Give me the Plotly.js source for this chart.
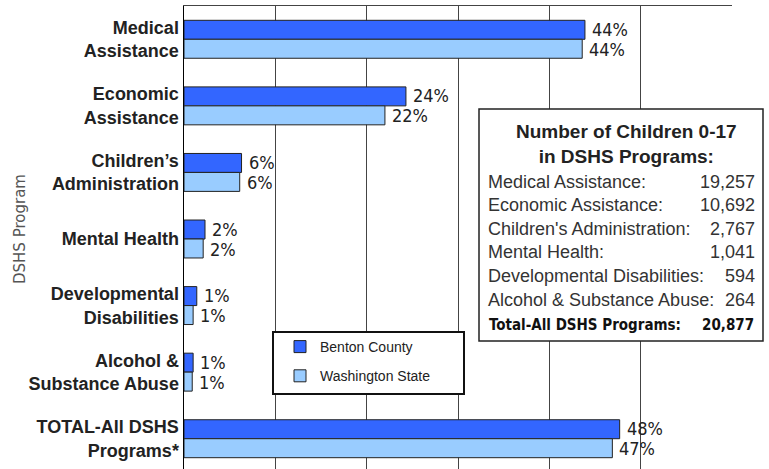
<!DOCTYPE html>
<html>
<head>
<meta charset="utf-8">
<script src="https://cdn.plot.ly/plotly-3.0.1.min.js"></script>
<style>
html, body { margin: 0; padding: 0; overflow: hidden; background: #fff; }
#chart { width: 769px; height: 472px; }
</style>
</head>
<body>
<div id="chart"></div>
<script>
// ---- Data ----
const categories = [
  "Medical<br>Assistance",
  "Economic<br>Assistance",
  "Children’s<br>Administration",
  "Mental Health",
  "Developmental<br>Disabilities",
  "Alcohol &<br>Substance Abuse",
  "TOTAL-All DSHS<br>Programs*"
];
const bentonValues = [43.9, 24.3, 6.3, 2.3, 1.4, 1.0, 47.7];
const waValues     = [43.6, 22.0, 6.1, 2.1, 1.0, 0.9, 46.9];
const bentonLabels = ["44%", "24%", "6%", "2%", "1%", "1%", "48%"];
const waLabels     = ["44%", "22%", "6%", "2%", "1%", "1%", "47%"];
const seriesNames  = ["Benton County", "Washington State"];

const boxTitle  = "Number of Children 0-17<br>in DSHS Programs:";
const boxLabels = ["Medical Assistance:", "Economic Assistance:", "Children's Administration:",
                   "Mental Health:", "Developmental Disabilities:", "Alcohol & Substance Abuse:"];
const boxValues = ["19,257", "10,692", "2,767", "1,041", "594", "264"];
const boxTotalLabel = "Total-All DSHS Programs:";
const boxTotalValue = "20,877";
const yTitle = "DSHS Program";

// ---- Layout helpers (pixel -> paper) ----
const W = 769, H = 472;
const M = { l: 184, r: 37, t: 6, b: 0 };
const PW = W - M.l - M.r, PH = H - M.t - M.b;
const px = x => (x - M.l) / PW;
const py = y => 1 - (y - M.t) / PH;

const FONT = "Liberation Sans, Arial, sans-serif";
const COND = "DejaVu Sans Condensed, Liberation Sans, sans-serif";

const traces = [
  {
    type: "bar", orientation: "h", name: seriesNames[0], legendgroup: "a",
    y: categories, x: bentonValues,
    marker: { color: "#3366FF", line: { color: "#222", width: 1 } },
    hoverinfo: "skip"
  },
  {
    type: "bar", orientation: "h", name: seriesNames[1], legendgroup: "b",
    y: categories, x: waValues,
    marker: { color: "#99CCFF", line: { color: "#222", width: 1 } },
    hoverinfo: "skip"
  }
];

const annotations = [
  { xref: "paper", yref: "paper", x: px(20), y: py(229), text: yTitle, textangle: -90,
    showarrow: false, xanchor: "center", yanchor: "middle",
    font: { family: "DejaVu Sans, sans-serif", size: 15, color: "#555" } },
  { xref: "paper", yref: "paper", x: px(626), y: py(144), text: boxTitle,
    showarrow: false, xanchor: "center", yanchor: "middle", align: "center",
    font: { family: FONT, size: 19, color: "#222", weight: "bold" } }
];
// value labels next to bars (data coordinates)
categories.forEach((c, i) => {
  annotations.push({ xref: "x", yref: "y", x: bentonValues[i], y: c, text: bentonLabels[i],
    showarrow: false, xanchor: "left", yanchor: "middle", xshift: 5, yshift: 10,
    font: { family: COND, size: 18, color: "#222" } });
  annotations.push({ xref: "x", yref: "y", x: waValues[i], y: c, text: waLabels[i],
    showarrow: false, xanchor: "left", yanchor: "middle", xshift: 5, yshift: -10,
    font: { family: COND, size: 18, color: "#222" } });
});
const rowY = [182, 205, 229, 252, 276, 300];
boxLabels.forEach((lab, i) => {
  annotations.push({ xref: "paper", yref: "paper", x: px(486), y: py(rowY[i]), text: lab,
    showarrow: false, xanchor: "left", yanchor: "middle",
    font: { family: FONT, size: 18, color: "#333" } });
  annotations.push({ xref: "paper", yref: "paper", x: px(757), y: py(rowY[i]), text: boxValues[i],
    showarrow: false, xanchor: "right", yanchor: "middle",
    font: { family: FONT, size: 18, color: "#333" } });
});
annotations.push({ xref: "paper", yref: "paper", x: px(487), y: py(325), text: boxTotalLabel,
  showarrow: false, xanchor: "left", yanchor: "middle",
  font: { family: COND, size: 15, color: "#111", weight: "bold" } });
annotations.push({ xref: "paper", yref: "paper", x: px(756), y: py(325), text: boxTotalValue,
  showarrow: false, xanchor: "right", yanchor: "middle",
  font: { family: COND, size: 15, color: "#111", weight: "bold" } });

const shapes = [
  { type: "rect", xref: "paper", yref: "paper", x0: px(479), x1: px(763), y0: py(341), y1: py(109),
    fillcolor: "#fff", line: { color: "#222", width: 1.5 }, layer: "above" },
  { type: "rect", xref: "paper", yref: "paper", x0: px(273), x1: px(464), y0: py(394), y1: py(332),
    fillcolor: "#fff", line: { color: "#111", width: 2 }, layer: "above" }
];

const layout = {
  width: W, height: H,
  margin: M,
  paper_bgcolor: "#fff", plot_bgcolor: "#fff",
  barmode: "group", bargap: 0.43, bargroupgap: 0,
  showlegend: true,
  legend: {
    x: px(280), y: py(331), xanchor: "left", yanchor: "top",
    bgcolor: "rgba(0,0,0,0)", borderwidth: 0,
    font: { family: FONT, size: 14, color: "#222" },
    traceorder: "grouped", tracegroupgap: 8, itemwidth: 30
  },
  xaxis: {
    range: [0, 60], dtick: 10, showticklabels: false, ticks: "",
    showgrid: true, gridcolor: "#444", gridwidth: 1,
    zeroline: false, showline: true, linecolor: "#444", linewidth: 1, mirror: true
  },
  yaxis: {
    type: "category", categoryorder: "array", categoryarray: categories,
    autorange: "reversed", ticks: "", ticklabelstandoff: 0,
    showline: true, linecolor: "#000", linewidth: 1.5,
    showgrid: false, zeroline: false,
    tickfont: { family: FONT, size: 18, color: "#222", weight: "bold" }
  },
  annotations: annotations,
  shapes: shapes
};

Plotly.newPlot("chart", traces, layout, { staticPlot: true, displayModeBar: false });
</script>
</body>
</html>
